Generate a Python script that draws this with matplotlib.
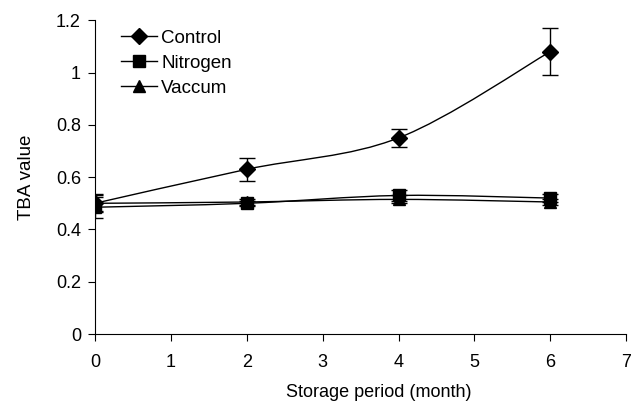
import numpy as np
import matplotlib
matplotlib.use("Agg")
import matplotlib.pyplot as plt
from matplotlib.path import Path
from matplotlib.patches import PathPatch

plt.rcParams['font.family'] = ['Liberation Sans', 'DejaVu Sans']

months = [0, 2, 4, 6]
control = [0.50, 0.63, 0.75, 1.08]
control_err = [0.035, 0.045, 0.035, 0.09]
nitrogen = [0.485, 0.50, 0.53, 0.52]
nitrogen_err = [0.04, 0.01, 0.02, 0.015]
vaccum = [0.50, 0.505, 0.515, 0.505]
vaccum_err = [0.03, 0.01, 0.015, 0.01]


def smooth_path(x, y, t=0.5 / 3):
    # bezier path like excel's smoothed line
    x = np.asarray(x, float)
    y = np.asarray(y, float)
    verts = [(x[0], y[0])]
    codes = [Path.MOVETO]
    n = len(x)
    for i in range(n - 1):
        p0 = (x[max(i - 1, 0)], y[max(i - 1, 0)])
        p1 = (x[i], y[i])
        p2 = (x[i + 1], y[i + 1])
        p3 = (x[min(i + 2, n - 1)], y[min(i + 2, n - 1)])
        c1 = (p1[0] + (p2[0] - p0[0]) * t, p1[1] + (p2[1] - p0[1]) * t)
        c2 = (p2[0] - (p3[0] - p1[0]) * t, p2[1] - (p3[1] - p1[1]) * t)
        verts += [c1, c2, p2]
        codes += [Path.CURVE4] * 3
    return Path(verts, codes)


fig = plt.figure(figsize=(6.41, 4.04), dpi=100)
ax = fig.add_axes([0.148, 0.173, 0.829, 0.777])

series = [('Control', control, control_err, 'D', 8.5),
          ('Nitrogen', nitrogen, nitrogen_err, 's', 8),
          ('Vaccum', vaccum, vaccum_err, '^', 8)]

for name, vals, err, mk, ms in series:
    ax.add_patch(PathPatch(smooth_path(months, vals), fill=False,
                           edgecolor='black', lw=1.0, zorder=2))
    ax.errorbar(months, vals, yerr=err, fmt='none', ecolor='black',
                elinewidth=1.0, capsize=6, capthick=1.0, zorder=3)
    ax.plot(months, vals, ls='none', marker=mk, ms=ms, color='black', zorder=4)
    ax.plot([], [], '-', marker=mk, ms=ms, color='black', lw=1.0, label=name)

ax.set_xlim(0, 7)
ax.set_ylim(0, 1.2)
ax.set_xticks(range(0, 8))
ax.set_yticks([0, 0.2, 0.4, 0.6, 0.8, 1.0, 1.2])
ax.set_yticklabels(['0', '0.2', '0.4', '0.6', '0.8', '1', '1.2'])
ax.spines['top'].set_visible(False)
ax.spines['right'].set_visible(False)
ax.tick_params(direction='out', length=5, labelsize=13)
ax.tick_params(axis='x', pad=9)
ax.tick_params(axis='y', pad=5)

ax.set_xlabel('Storage period (month)', fontsize=13)
ax.xaxis.set_label_coords(0.535, -0.16)
ax.set_ylabel('TBA value', fontsize=13.5)
ax.yaxis.set_label_coords(-0.128, 0.5)
ax.yaxis.label.set_verticalalignment('center')

ax.legend(loc='upper left', bbox_to_anchor=(0.031, 1.0), frameon=False,
          fontsize=13.5, handlelength=1.95, labelspacing=0.42,
          handletextpad=0.2, borderpad=0.0)

fig.savefig('out.png', dpi=100)
